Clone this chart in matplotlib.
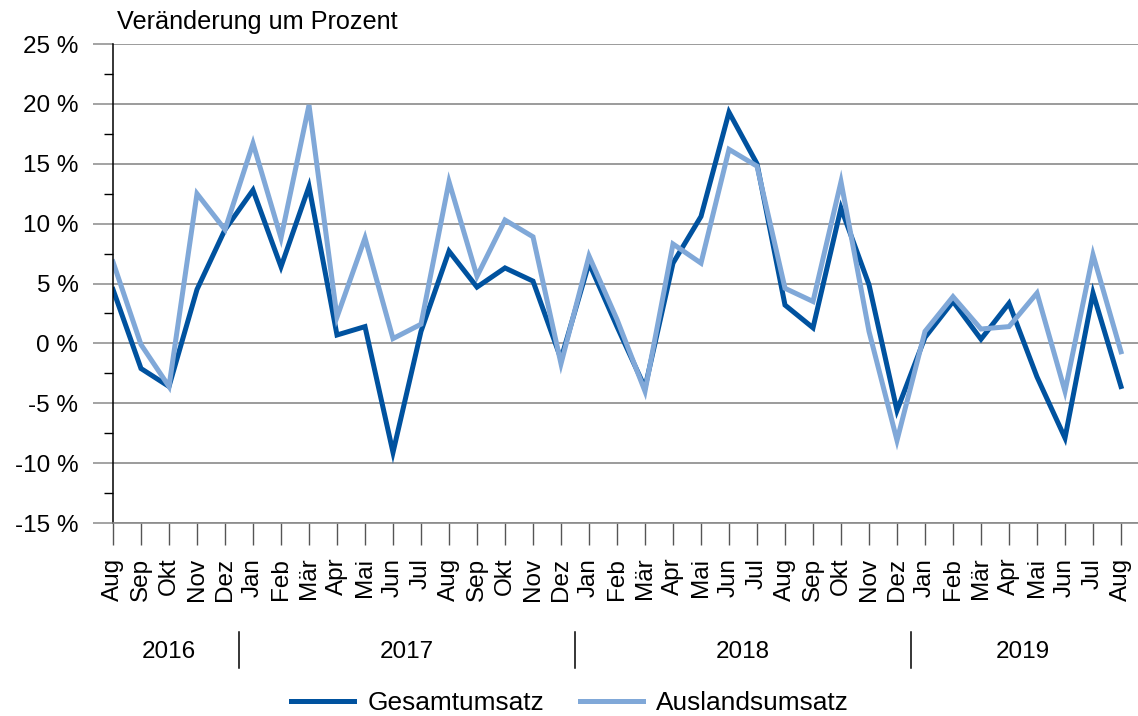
import matplotlib.pyplot as plt
from matplotlib.ticker import FixedLocator, MultipleLocator
import matplotlib.transforms as mtransforms

plt.rcParams['font.family'] = ['Liberation Sans', 'DejaVu Sans']

# months Aug 2016 .. Aug 2019
months = ['Aug', 'Sep', 'Okt', 'Nov', 'Dez',
          'Jan', 'Feb', 'Mär', 'Apr', 'Mai', 'Jun', 'Jul', 'Aug', 'Sep', 'Okt', 'Nov', 'Dez',
          'Jan', 'Feb', 'Mär', 'Apr', 'Mai', 'Jun', 'Jul', 'Aug', 'Sep', 'Okt', 'Nov', 'Dez',
          'Jan', 'Feb', 'Mär', 'Apr', 'Mai', 'Jun', 'Jul', 'Aug']

gesamt = [4.5, -2.1, -3.6, 4.5, 9.5,
          12.8, 6.4, 13.1, 0.7, 1.4, -9.1, 1.0, 7.7, 4.7, 6.3, 5.2, -1.3,
          6.7, 1.4, -3.7, 6.7, 10.6, 19.3, 15.0, 3.2, 1.3, 11.3, 4.9, -5.6,
          0.5, 3.5, 0.35, 3.35, -2.8, -7.9, 4.2, -3.6]

ausland = [6.8, -0.1, -3.6, 12.5, 9.5,
           16.7, 8.8, 19.9, 2.2, 8.8, 0.4, 1.6, 13.5, 5.6, 10.3, 8.9, -1.7,
           7.3, 2.0, -4.0, 8.3, 6.7, 16.2, 14.8, 4.6, 3.5, 13.5, 1.0, -8.1,
           1.0, 3.9, 1.2, 1.4, 4.2, -4.0, 7.4, -0.7]

years = ['2016', '2017', '2018', '2019']
year_centers = [2, 10.5, 22.5, 32.5]
year_breaks = [4.5, 16.5, 28.5]

yticks = [-15, -10, -5, 0, 5, 10, 15, 20, 25]

dark = '#00529f'
light = '#80a8d8'
grid_c = '#8a8a8a'

fig = plt.figure(figsize=(11.38, 7.16), dpi=100)
ax = fig.add_axes([113 / 1138, 193 / 716, 1 - 113 / 1138, 479 / 716])

x = list(range(len(months)))
ax.plot(x, gesamt, color=dark, lw=3.6, solid_joinstyle='miter', label='Gesamtumsatz')
ax.plot(x, ausland, color=light, lw=3.6, solid_joinstyle='miter', label='Auslandsumsatz')

ax.set_xlim(0, (1138 - 113) / 28)
ax.set_ylim(-15, 25)

ax.yaxis.set_major_locator(FixedLocator(yticks))
ax.set_yticklabels([f'{v} %' for v in yticks], fontsize=17.5)
ax.yaxis.set_minor_locator(MultipleLocator(2.5))
ax.tick_params(axis='y', which='major', length=14.4, width=1.1, color=grid_c, pad=10.5)
ax.tick_params(axis='y', which='minor', length=6.5, width=1, color='black')
ax.grid(axis='y', color=grid_c, lw=1.2)
ax.set_axisbelow(True)

ax.set_xticks(x)
ax.set_xticklabels(months, rotation=90, fontsize=17.5)
ax.tick_params(axis='x', length=16, width=1, color='#555555', pad=9)

for s in ['top', 'right']:
    ax.spines[s].set_visible(False)
ax.spines['bottom'].set_color(grid_c)
ax.spines['bottom'].set_linewidth(1.2)
ax.spines['left'].set_color('black')
ax.spines['left'].set_linewidth(1.1)

trans = mtransforms.blended_transform_factory(ax.transData, ax.transAxes)
for yr, c in zip(years, year_centers):
    ax.text(c, -0.269, yr, transform=trans, ha='center', va='center', fontsize=17.5)
for b in year_breaks:
    ax.plot([b, b], [-0.228, -0.303], transform=trans, color='black', lw=1.1, clip_on=False)

fig.text(117 / 1138, 1 - 22 / 716, 'Veränderung um Prozent', ha='left', va='center', fontsize=18.2)

fig.legend(loc='center', bbox_to_anchor=(570 / 1138, 13 / 716), ncol=2, frameon=False,
           fontsize=18.9, handlelength=2.4, columnspacing=1.35, handletextpad=0.5)

fig.savefig('out.png', dpi=100)
